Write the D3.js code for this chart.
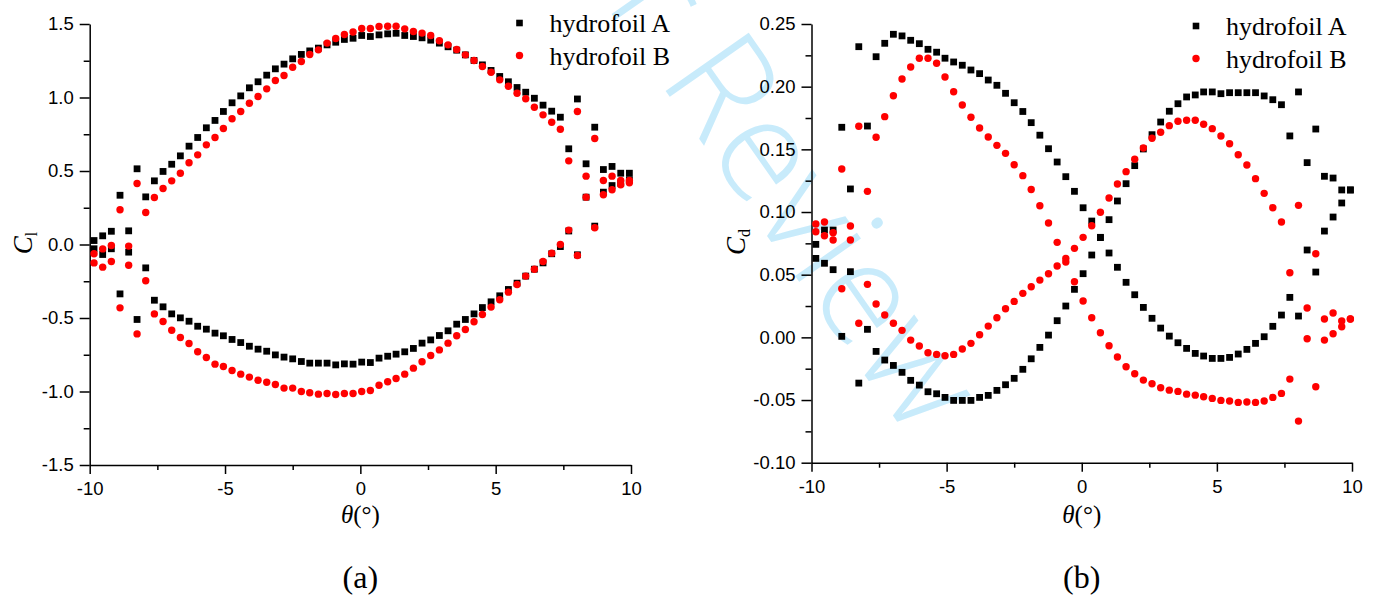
<!DOCTYPE html>
<html><head><meta charset="utf-8">
<script src="https://cdn.jsdelivr.net/npm/d3@7"></script>
<style>body{margin:0;background:#fff}svg{display:block}</style>
</head><body>
<svg id="c" width="1373" height="595"></svg>
<script>
// ---------- data ----------
const theta = [-9.84,-9.52,-9.20,-8.88,-8.56,-8.25,-7.93,-7.61,-7.29,-6.97,
 -6.65,-6.33,-6.01,-5.69,-5.37,-5.06,-4.74,-4.42,-4.10,-3.78,
 -3.46,-3.14,-2.82,-2.50,-2.18,-1.87,-1.55,-1.23,-0.91,-0.59,
 -0.27,0.05,0.37,0.69,1.01,1.32,1.64,1.96,2.28,2.60,
 2.92,3.24,3.56,3.88,4.20,4.51,4.83,5.15,5.47,5.79,
 6.11,6.43,6.75,7.07,7.39,7.70,8.02,8.34,8.66,8.98,
 9.30,9.62,9.94];

const clA1 = [0.027,0.059,0.09,0.335,0.093,0.515,0.324,0.433,0.497,0.546,
 0.603,0.669,0.728,0.794,0.844,0.905,0.964,1.011,1.066,1.107,
 1.152,1.195,1.227,1.263,1.293,1.317,1.336,1.358,1.376,1.395,
 1.403,1.422,1.415,1.426,1.433,1.437,1.422,1.415,1.406,1.390,
 1.370,1.345,1.322,1.290,1.252,1.222,1.184,1.143,1.107,1.068,
 1.036,0.995,0.948,0.907,0.866,0.651,0.990,0.549,0.798,0.510,
 0.531,0.485,0.485];
const clA2 = [-0.029,-0.068,-0.029,-0.336,-0.052,-0.510,-0.159,-0.379,-0.424,-0.472,
 -0.499,-0.522,-0.556,-0.576,-0.603,-0.621,-0.646,-0.667,-0.692,-0.712,
 -0.726,-0.751,-0.766,-0.778,-0.796,-0.807,-0.807,-0.807,-0.819,-0.812,
 -0.814,-0.800,-0.803,-0.773,-0.760,-0.746,-0.730,-0.707,-0.671,-0.649,
 -0.619,-0.587,-0.542,-0.510,-0.472,-0.429,-0.390,-0.349,-0.306,-0.263,
 -0.215,-0.168,-0.125,-0.063,-0.014,0.092,-0.070,0.322,0.125,0.356,
 0.401,0.417,0.440];
const clB1 = [-0.063,-0.030,-0.007,0.236,-0.011,0.415,0.218,0.320,0.381,0.433,
 0.485,0.556,0.610,0.678,0.728,0.789,0.855,0.905,0.961,1.007,
 1.059,1.116,1.150,1.206,1.245,1.293,1.324,1.370,1.401,1.429,
 1.446,1.469,1.469,1.483,1.485,1.485,1.467,1.449,1.438,1.422,
 1.386,1.358,1.327,1.290,1.252,1.211,1.172,1.120,1.077,1.029,
 0.991,0.934,0.882,0.832,0.784,0.569,0.905,0.465,0.721,0.435,
 0.465,0.435,0.435];
const clB2 = [-0.125,-0.154,-0.116,-0.431,-0.141,-0.608,-0.247,-0.472,-0.524,-0.583,
 -0.633,-0.673,-0.730,-0.769,-0.814,-0.830,-0.857,-0.882,-0.902,-0.923,
 -0.937,-0.952,-0.977,-0.977,-1.000,-1.009,-1.018,-1.014,-1.020,-1.014,
 -1.014,-1.000,-0.993,-0.957,-0.934,-0.912,-0.882,-0.841,-0.798,-0.755,
 -0.717,-0.671,-0.621,-0.578,-0.526,-0.476,-0.426,-0.376,-0.324,-0.272,
 -0.215,-0.168,-0.116,-0.059,0.000,0.098,-0.075,0.322,0.114,0.338,
 0.372,0.406,0.420];

const cdA1 = [0.0742,0.0856,0.0856,0.1676,0.1184,0.2319,0.1686,0.2239,0.2346,0.2418,
 0.2405,0.2370,0.2343,0.2298,0.2275,0.2227,0.2197,0.2171,0.2133,0.2104,
 0.2053,0.2011,0.1947,0.1872,0.1802,0.1713,0.1613,0.1505,0.1399,0.1282,
 0.1165,0.1034,0.0928,0.0796,0.0673,0.0559,0.0439,0.0340,0.0239,0.0152,
 0.0074,0.0010,-0.0043,-0.0088,-0.0128,-0.0149,-0.0168,-0.0168,-0.0160,-0.0133,
 -0.0096,-0.0048,0.0005,0.0088,0.0178,0.0319,0.0170,0.0697,0.0521,0.0848,
 0.0960,0.1072,0.1176];
const cdA2 = [0.0630,0.0591,0.0540,0.0008,0.0524,-0.0365,0.0064,-0.0112,-0.0181,-0.0224,
 -0.0279,-0.0343,-0.0381,-0.0434,-0.0450,-0.0479,-0.0503,-0.0503,-0.0503,-0.0479,
 -0.0463,-0.0423,-0.0378,-0.0327,-0.0255,-0.0171,-0.0080,0.0018,0.0133,0.0250,
 0.0383,0.0508,0.0657,0.0798,0.0939,0.1088,0.1226,0.1370,0.1503,0.1617,
 0.1718,0.1804,0.1864,0.1918,0.1934,0.1958,0.1958,0.1944,0.1952,0.1952,
 0.1952,0.1952,0.1926,0.1896,0.1856,0.1607,0.1958,0.1394,0.1662,0.1285,
 0.1271,0.1176,0.1176];
const cdB1 = [0.0904,0.0920,0.0835,0.1343,0.0888,0.1684,0.1165,0.1596,0.1761,0.1928,
 0.2061,0.2157,0.2227,0.2227,0.2187,0.2077,0.1960,0.1854,0.1756,0.1670,
 0.1599,0.1532,0.1468,0.1377,0.1290,0.1180,0.1050,0.0912,0.0758,0.0601,
 0.0444,0.0290,0.0157,0.0037,-0.0067,-0.0157,-0.0235,-0.0290,-0.0341,-0.0370,
 -0.0402,-0.0421,-0.0431,-0.0453,-0.0461,-0.0474,-0.0487,-0.0503,-0.0508,-0.0519,
 -0.0516,-0.0519,-0.0508,-0.0479,-0.0447,-0.0333,-0.0668,-0.0011,-0.0394,-0.0022,
 0.0029,0.0085,0.0146];
const cdB2 = [0.0843,0.0811,0.0777,0.0388,0.0777,0.0112,0.0423,0.0266,0.0178,0.0112,
 0.0056,-0.0022,-0.0069,-0.0123,-0.0136,-0.0147,-0.0136,-0.0093,-0.0048,0.0021,
 0.0090,0.0157,0.0228,0.0287,0.0351,0.0404,0.0457,0.0508,0.0569,0.0630,
 0.0710,0.0798,0.0891,0.0998,0.1112,0.1223,0.1322,0.1421,0.1511,0.1588,
 0.1636,0.1689,0.1724,0.1732,0.1732,0.1700,0.1665,0.1607,0.1545,0.1457,
 0.1375,0.1266,0.1149,0.1034,0.0920,0.0516,0.1053,0.0234,0.0667,0.0146,
 0.0194,0.0130,0.0146];

const xTicks = [-10,-5,0,5,10];
const xMinor = [-7.5,-2.5,2.5,7.5];
const clTicks = [-1.5,-1.0,-0.5,0.0,0.5,1.0,1.5];
const clMinor = [-1.25,-0.75,-0.25,0.25,0.75,1.25];
const cdTicks = [-0.10,-0.05,0.00,0.05,0.10,0.15,0.20,0.25];
const cdMinor = [-0.075,-0.025,0.025,0.075,0.125,0.175,0.225];
const seriesNames = ["hydrofoil A","hydrofoil B"];
const panelLabels = ["(a)","(b)"];

// ---------- drawing ----------
const svg = d3.select("#c");
const SANS = "'Liberation Sans', Arial, sans-serif";
const SERIF = "'Liberation Serif', 'Times New Roman', serif";

// watermark
svg.append("text")
  .attr("transform","translate(910,440) rotate(55)")
  .attr("text-anchor","end")
  .attr("font-family","'Open Sans', 'Liberation Sans', sans-serif")
  .attr("font-weight",300)
  .attr("font-size",142)
  .attr("fill","#c8ebfb")
  .text("For Peer Review");

function panel(cfg) {
  const g = svg.append("g");
  const x = d3.scaleLinear().domain([-10,10]).range(cfg.xr);
  const y = d3.scaleLinear().domain(cfg.yd).range(cfg.yr);
  const x0 = cfg.xr[0], yb = cfg.yr[0];

  // minor ticks
  g.append("g").attr("transform",`translate(0,${yb})`)
    .call(d3.axisBottom(x).tickValues(xMinor).tickSize(5).tickFormat(""))
    .call(a=>a.select(".domain").remove());
  g.append("g").attr("transform",`translate(${x0},0)`)
    .call(d3.axisLeft(y).tickValues(cfg.yMinor).tickSize(6).tickFormat(""))
    .call(a=>a.select(".domain").remove());
  // major axes
  const ax = g.append("g").attr("transform",`translate(0,${yb})`)
    .call(d3.axisBottom(x).tickValues(xTicks).tickSize(9).tickSizeOuter(0).tickPadding(8)
      .tickFormat(d=>String(d)));
  const ay = g.append("g").attr("transform",`translate(${x0},0)`)
    .call(d3.axisLeft(y).tickValues(cfg.yTicks).tickSize(10).tickSizeOuter(0).tickPadding(6)
      .tickFormat(d=>d.toFixed(cfg.dec)));
  [ax,ay].forEach(a=>{
    a.selectAll("path,line").attr("stroke","#000").attr("stroke-width",1.5);
    a.selectAll("text").attr("font-family",SANS).attr("font-size",18.5).attr("fill","#000");
  });
  g.selectAll(".tick line").attr("stroke","#000").attr("stroke-width",1.5);

  // axis titles
  const xm = (cfg.xr[0]+cfg.xr[1])/2;
  const xt = g.append("text").attr("x",xm).attr("y",523).attr("text-anchor","middle")
    .attr("font-family",SERIF).attr("font-size",25);
  xt.append("tspan").attr("font-style","italic").text("θ");
  xt.append("tspan").text("(°)");
  const yt = g.append("text").attr("transform",`translate(${cfg.ylx},${cfg.yly}) rotate(-90)`)
    .attr("text-anchor","middle").attr("font-family",SERIF).attr("font-size",27);
  yt.append("tspan").attr("font-style","italic").text("C");
  yt.append("tspan").attr("font-size",16).attr("dy",5).text(cfg.sub);

  g.append("text").attr("x",xm).attr("y",588).attr("text-anchor","middle")
    .attr("font-family",SERIF).attr("font-size",32).text(cfg.label);

  // data
  const sq = 6.8, r = 3.7;
  const blk = cfg.a1.map((v,i)=>[theta[i],v]).concat(cfg.a2.map((v,i)=>[theta[i],v]));
  const red = cfg.b1.map((v,i)=>[theta[i],v]).concat(cfg.b2.map((v,i)=>[theta[i],v]));
  g.append("g").selectAll("rect").data(blk).join("rect")
    .attr("x",d=>x(d[0])-sq/2).attr("y",d=>y(d[1])-sq/2)
    .attr("width",sq).attr("height",sq).attr("fill","#000");
  g.append("g").selectAll("circle").data(red).join("circle")
    .attr("cx",d=>x(d[0])).attr("cy",d=>y(d[1])).attr("r",r).attr("fill","#ff0000");

  // legend
  const L = cfg.leg;
  g.append("rect").attr("x",L[0]-3.3).attr("y",L[1]-3.3).attr("width",6.6).attr("height",6.6).attr("fill","#000");
  g.append("circle").attr("cx",L[0]).attr("cy",L[1]+32.5).attr("r",3.7).attr("fill","#ff0000");
  seriesNames.forEach((n,i)=>{
    g.append("text").attr("x",L[0]+30).attr("y",L[1]+9+i*32.5)
      .attr("font-family",SERIF).attr("font-size",26).attr("fill","#000").text(n);
  });
}

panel({xr:[89.7,631], yd:[-1.5,1.5], yr:[465,24], yTicks:clTicks, yMinor:clMinor, dec:1,
  a1:clA1, a2:clA2, b1:clB1, b2:clB2, sub:"l", ylx:32, yly:243, label:panelLabels[0], leg:[519.5,23]});
panel({xr:[811.5,1352], yd:[-0.10,0.25], yr:[462.7,24], yTicks:cdTicks, yMinor:cdMinor, dec:2,
  a1:cdA1, a2:cdA2, b1:cdB1, b2:cdB2, sub:"d", ylx:745, yly:242, label:panelLabels[1], leg:[1196,26]});
</script>
</body></html>
